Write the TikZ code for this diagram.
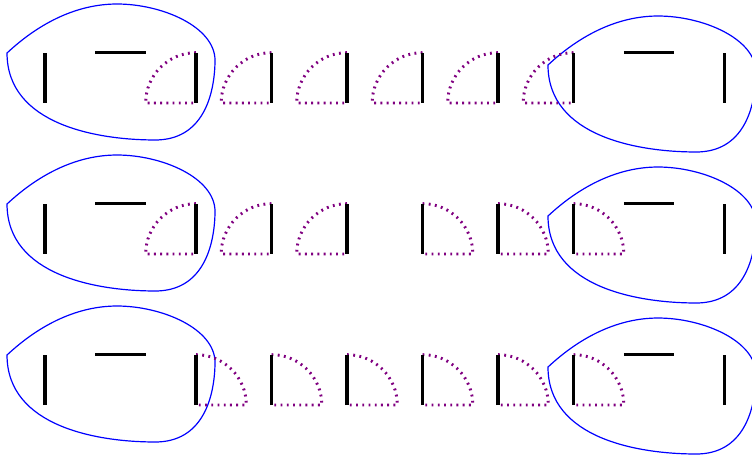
\documentclass[tikz,border=0pt]{standalone}
\definecolor{doorcol}{RGB}{128,0,128}

\begin{document}
\begin{tikzpicture}[
      blob/.style={draw=blue, line width=0.45pt},
      wall/.style={draw=black, line width=1.2pt},
      swing/.style={draw=doorcol, line width=1.1pt, dash pattern=on 0.7pt off 1.65pt}
    ]
    \useasboundingbox (-0.596,-4.715) rectangle (9.364,1.364);
    \clip (-0.596,-4.715) rectangle (9.364,1.364);
    % rooms, one row after the other
    \foreach \rowy in {0,-2,-4} {
      \foreach \cx/\cy in {-0.503/0.662, 6.662/0.503} {
        \draw[blob, shift={(\cx,\rowy+\cy)}] (0,0)
          .. controls (0.45,0.42) and (0.95,0.649) .. (1.457,0.649)
          .. controls (2.05,0.649) and (2.755,0.35) .. (2.755,-0.1)
          .. controls (2.75,-0.55) and (2.6,-1.16) .. (1.95,-1.152)
          .. controls (1.2,-1.15) and (0,-0.95) .. (0,0) -- cycle;
      }
    }
    % door swings
    \foreach \x/\rowy/\ang in {2/0/180, 3/0/180, 4/0/180, 5/0/180, 6/0/180, 7/0/180,
        2/-2/180, 3/-2/180, 4/-2/180, 5/-2/0, 6/-2/0, 7/-2/0,
        2/-4/0, 3/-4/0, 4/-4/0, 5/-4/0, 6/-4/0, 7/-4/0}
      \draw[swing] (\x,\rowy+2/3) arc[start angle=90, end angle=\ang, radius=2/3] -- (\x,\rowy);
    % walls
    \foreach \rowy in {0,-2,-4} {
      \foreach \x in {0,2,3,4,5,6,7,9}
        \draw[wall] (\x,\rowy) -- ++(0,2/3);
      \draw[wall] (2/3,\rowy+2/3) -- ++(2/3,0);
      \draw[wall] (7+2/3,\rowy+2/3) -- ++(2/3,0);
    }
  \end{tikzpicture}
\end{document}
